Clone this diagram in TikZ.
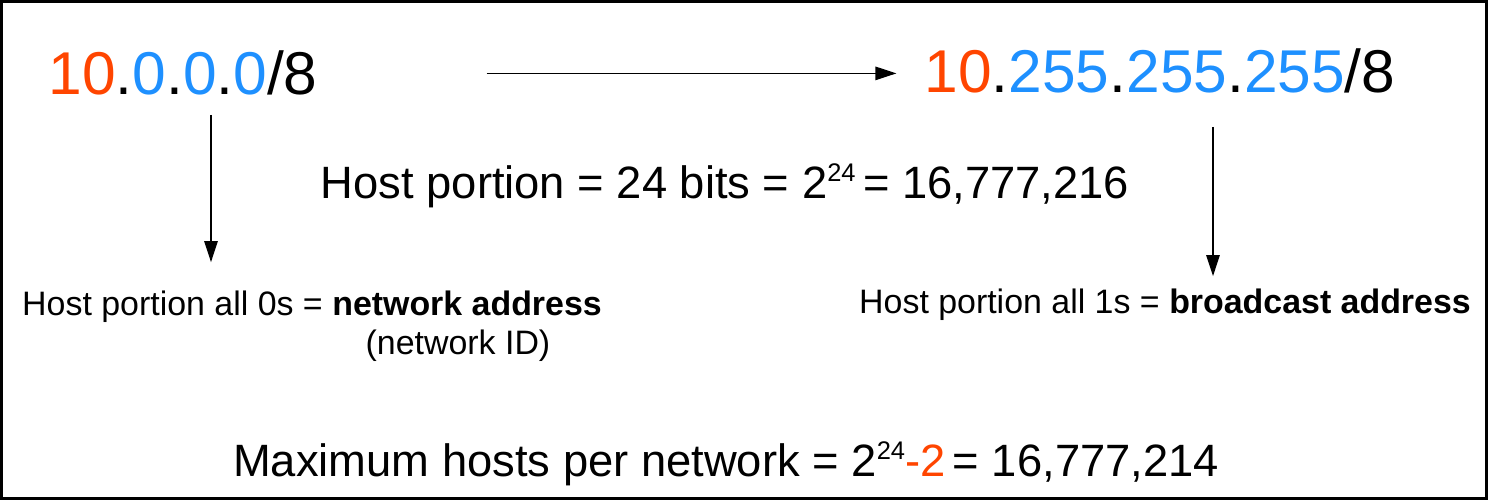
\documentclass[tikz,border=0pt]{standalone}
\usepackage{fontspec}
\setmainfont{Liberation Sans}
\usetikzlibrary{arrows.meta,calc,positioning}
\definecolor{netred}{RGB}{255,69,0}
\definecolor{hostblue}{RGB}{30,144,255}
\newcommand{\netpart}[1]{\textcolor{netred}{#1}}
\newcommand{\hostpart}[1]{\textcolor{hostblue}{#1}}
\newcommand{\pw}[1]{\raisebox{0.36em}{\fontsize{14.5}{15}\selectfont #1}}

\begin{document}
\begin{tikzpicture}[x=0.02cm, y=-0.02cm,
    addr/.style={inner sep=0pt, anchor=base, font=\fontsize{34.4}{40}\selectfont},
    big/.style={inner sep=0pt, anchor=base, font=\fontsize{25.8}{30}\selectfont},
    lbl/.style={inner sep=0pt, anchor=base, font=\fontsize{19.3}{23}\selectfont},
    arr/.style={-{Triangle[length=0.42cm, width=0.27cm]}, line width=0.7pt}
  ]
    \useasboundingbox (0,0) rectangle (1488,500);
    % frame
    \draw[line width=0.06cm] (1.5,1.5) rectangle (1486.5,498.5);

    % addresses
    \node[addr] (netaddr) at (183,95) {\netpart{10}.\hostpart{0}.\hostpart{0}.\hostpart{0}/8};
    \node[addr] (bcast) at (1160,93) {\netpart{10}.\hostpart{255}.\hostpart{255}.\hostpart{255}/8};

    % host bits
    \node[big] (bits) at (725,198) {Host portion = 24 bits = 2\pw{24}\,= 16,777,216};

    % labels
    \node[lbl] (netlbl) at (312,315) {Host portion all 0s = \textbf{network address}};
    \node[lbl] (netid) at (458,354) {(network ID)};
    \node[lbl] (bclbl) at (1165,313) {Host portion all 1s = \textbf{broadcast address}};

    % max hosts
    \node[big] (maxh) at (726,476) {Maximum hosts per network = 2\pw{24}\netpart{-2}\,= 16,777,214};

    % arrows
    \draw[arr, shorten <=3.38cm, shorten >=0.56cm] (netaddr.east) -- (netaddr.east -| bcast.west);
    \draw[arr] ($(netaddr.south)+(28,19)$) -- ($(netaddr.south |- netlbl.north)+(28,-28)$);
    \draw[arr] ($(bcast.south)+(53,33)$) -- ($(bcast.south |- bclbl.north)+(53,-12)$);
  \end{tikzpicture}
\end{document}
